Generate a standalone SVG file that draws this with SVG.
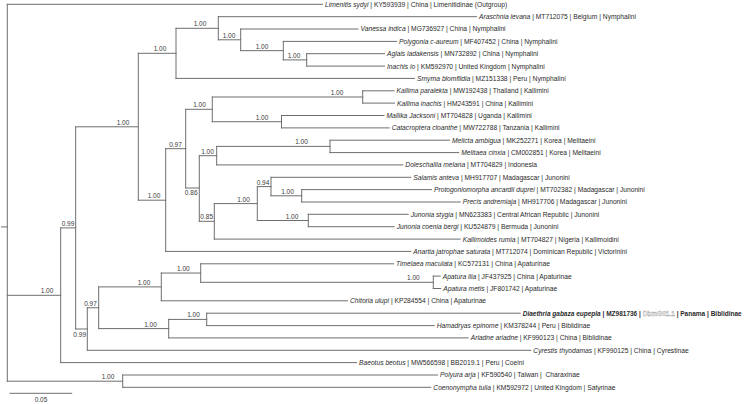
<svg xmlns="http://www.w3.org/2000/svg" width="745" height="404" viewBox="0 0 745 404">
<style>
.br{fill:none;stroke:#6e6e6e;stroke-width:1;stroke-linecap:square}
.tip{font-family:"Liberation Sans",Arial,sans-serif;font-size:6.7px;fill:#2a2a2a}
.sp{font-style:italic}
.bold{font-weight:bold}
.sup{font-family:"Liberation Sans",Arial,sans-serif;font-size:6.5px;fill:#3a3a3a;text-anchor:middle}
.redact{fill:#ffffff;stroke:#9a9a9a;stroke-width:0.35}
</style>
<rect width="745" height="404" fill="#ffffff"/>
<g id="connectors">
<path class="br" d="M1.5,226.9H7.3 M7.3,4.3V381.2 M7.3,4.3H322.5 M7.3,295.3H60.7 M7.3,381.2H122.7 M122.7,375V387.3 M122.7,375H437.5 M122.7,387.3H430.8 M60.7,227.9V362.6 M60.7,362.6H356.5 M60.7,227.9H75.7 M75.7,126.8V329 M75.7,126.8H138.3 M75.7,329H87.3 M138.3,53.3V200.2 M138.3,53.3H176 M138.3,200.2H165.7 M176,28.3V78.4 M176,28.3H218.3 M176,78.4H414.5 M218.3,16.7V39.8 M218.3,16.7H476.5 M218.3,39.8H240.7 M240.7,29V50.65 M240.7,29H358 M240.7,50.65H283.3 M283.3,41.4V59.9 M283.3,41.4H396.5 M283.3,59.9H306.7 M306.7,53.7V66.1 M306.7,53.7H384.5 M306.7,66.1H384.5 M165.7,148.7V251.4 M165.7,148.7H185.7 M165.7,251.4H410.8 M185.7,109.3V188 M185.7,109.3H212.3 M185.7,188H199.3 M212.3,97V121.7 M212.3,97H362.7 M212.3,121.7H281.5 M362.7,90.8V103.1 M362.7,90.8H394 M362.7,103.1H394.5 M281.5,115.5V127.9 M281.5,115.5H384 M281.5,127.9H389.2 M199.3,155.7V221.3 M199.3,155.7H216.7 M199.3,221.3H214.3 M216.7,146.4V164.9 M216.7,146.4H330 M216.7,164.9H402.8 M330,140.2V152.6 M330,140.2H449.5 M330,152.6H458.8 M214.3,203.6V239.1 M214.3,203.6H257.3 M214.3,239.1H460.2 M257.3,186.6V220.5 M257.3,186.6H271 M257.3,220.5H308.3 M271,177.3V195.8 M271,177.3H410.8 M271,195.8H301.7 M301.7,189.6V202 M301.7,189.6H431.5 M301.7,202H460.2 M308.3,214.3V226.7 M308.3,214.3H408.2 M308.3,226.7H394.2 M87.3,307.75V350.3 M87.3,307.75H98.7 M87.3,350.3H530.8 M98.7,286.9V328.6 M98.7,286.9H161.3 M98.7,328.6H168.7 M161.3,273.05V300.8 M161.3,273.05H200.7 M161.3,300.8H347.5 M200.7,263.8V282.3 M200.7,263.8H393.5 M200.7,282.3H433.3 M433.3,276.1V288.5 M433.3,276.1H440.2 M433.3,288.5H440.8 M168.7,319.4V337.9 M168.7,319.4H206.7 M168.7,337.9H468.2 M206.7,313.2V325.6 M206.7,313.2H520.2 M206.7,325.6H434.2"/>
</g>
<g id="support">
<text class="sup" x="47" y="293.3">1.00</text>
<text class="sup" x="108" y="379.2">1.00</text>
<text class="sup" x="68" y="225.9">0.99</text>
<text class="sup" x="123" y="124.8">1.00</text>
<text class="sup" x="160" y="51.3">1.00</text>
<text class="sup" x="200" y="26.3">1.00</text>
<text class="sup" x="229" y="37.8">1.00</text>
<text class="sup" x="262" y="48.6">1.00</text>
<text class="sup" x="294" y="57.9">1.00</text>
<text class="sup" x="154" y="198.2">1.00</text>
<text class="sup" x="175.5" y="146.7">0.97</text>
<text class="sup" x="199.5" y="107.3">1.00</text>
<text class="sup" x="337" y="95">1.00</text>
<text class="sup" x="262" y="119.7">1.00</text>
<text class="sup" x="207.5" y="153.7">1.00</text>
<text class="sup" x="301.5" y="144.4">1.00</text>
<text class="sup" x="243.5" y="201.6">1.00</text>
<text class="sup" x="263" y="184.6">0.94</text>
<text class="sup" x="287.5" y="193.8">1.00</text>
<text class="sup" x="292" y="218.5">1.00</text>
<text class="sup" x="191.2" y="194.8">0.86</text>
<text class="sup" x="206.7" y="219.3">0.85</text>
<text class="sup" x="79.7" y="336.5">0.99</text>
<text class="sup" x="90.5" y="305.7">0.97</text>
<text class="sup" x="144" y="284.9">1.00</text>
<text class="sup" x="183.3" y="271">1.00</text>
<text class="sup" x="413.3" y="280.3">1.00</text>
<text class="sup" x="150.5" y="326.6">1.00</text>
<text class="sup" x="193.5" y="317.4">1.00</text>
</g>
<g id="tip-limenitis"><text class="tip" x="325" y="6.7"><tspan class="sp">Limenitis sydyi</tspan> | KY593939 | China | Limenitidinae (Outgroup)</text></g>
<g id="tip-araschnia"><text class="tip" x="479" y="19.1"><tspan class="sp">Araschnia levana</tspan> | MT712075 | Belgium | Nymphalini</text></g>
<g id="tip-vanessa"><text class="tip" x="360.5" y="31.4"><tspan class="sp">Vanessa indica</tspan> | MG736927 | China | Nymphalini</text></g>
<g id="tip-polygonia"><text class="tip" x="399" y="43.8"><tspan class="sp">Polygonia c-aureum</tspan> | MF407452 | China | Nymphalini</text></g>
<g id="tip-aglais"><text class="tip" x="387" y="56.1"><tspan class="sp">Aglais ladakensis</tspan> | MN732892 | China | Nymphalini</text></g>
<g id="tip-inachis"><text class="tip" x="387" y="68.5"><tspan class="sp">Inachis io</tspan> | KM592970 | United Kingdom | Nymphalini</text></g>
<g id="tip-smyrna"><text class="tip" x="417" y="80.8"><tspan class="sp">Smyrna blomfildia</tspan> | MZ151338 | Peru | Nymphalini</text></g>
<g id="tip-kallima-paralekta"><text class="tip" x="396.5" y="93.2"><tspan class="sp">Kallima paralekta</tspan> | MW192438 | Thailand | Kallimini</text></g>
<g id="tip-kallima-inachis"><text class="tip" x="397" y="105.5"><tspan class="sp">Kallima inachis</tspan> | HM243591 | China | Kallimini</text></g>
<g id="tip-mallika"><text class="tip" x="386.5" y="117.9"><tspan class="sp">Mallika Jacksoni</tspan> | MT704828 | Uganda | Kallimini</text></g>
<g id="tip-catacroptera"><text class="tip" x="391.7" y="130.3"><tspan class="sp">Catacroptera cloanthe</tspan> | MW722788 | Tanzania | Kallimini</text></g>
<g id="tip-melicta"><text class="tip" x="452" y="142.6"><tspan class="sp">Melicta ambigua</tspan> | MK252271 | Korea | Melitaeini</text></g>
<g id="tip-melitaea"><text class="tip" x="461.3" y="155"><tspan class="sp">Melitaea cinxia</tspan> | CM002851 | Korea | Melitaeini</text></g>
<g id="tip-doleschallia"><text class="tip" x="405.3" y="167.3"><tspan class="sp">Doleschallia melana</tspan> | MT704829 | Indonesia</text></g>
<g id="tip-salamis"><text class="tip" x="413.3" y="179.7"><tspan class="sp">Salamis anteva</tspan> | MH917707 | Madagascar | Junonini</text></g>
<g id="tip-protogoniomorpha"><text class="tip" x="434" y="192"><tspan class="sp">Protogoniomorpha ancardii duprei</tspan> | MT702382 | Madagascar | Junonini</text></g>
<g id="tip-precis"><text class="tip" x="462.7" y="204.4"><tspan class="sp">Precis andremiaja</tspan> | MH917706 | Madagascar | Junonini</text></g>
<g id="tip-junonia-stygia"><text class="tip" x="410.7" y="216.7"><tspan class="sp">Junonia stygia</tspan> | MN623383 | Central African Republic | Junonini</text></g>
<g id="tip-junonia-coenia"><text class="tip" x="396.7" y="229.1"><tspan class="sp">Junonia coenia bergi</tspan> | KU524879 | Bermuda | Junonini</text></g>
<g id="tip-kallimoides"><text class="tip" x="462.7" y="241.5"><tspan class="sp">Kallimoides rumia</tspan> | MT704827 | Nigeria | Kallimoidini</text></g>
<g id="tip-anartia"><text class="tip" x="413.3" y="253.8"><tspan class="sp">Anartia jatrophae saturata</tspan> | MT712074 | Dominican Republic | Victorinini</text></g>
<g id="tip-timelaea"><text class="tip" x="396" y="266.2"><tspan class="sp">Timelaea maculata</tspan> | KC572131 | China | Apaturinae</text></g>
<g id="tip-apatura-ilia"><text class="tip" x="442.7" y="278.5"><tspan class="sp">Apatura ilia</tspan> | JF437925 | China | Apaturinae</text></g>
<g id="tip-apatura-metis"><text class="tip" x="443.3" y="290.9"><tspan class="sp">Apatura metis</tspan> | JF801742 | Apaturinae</text></g>
<g id="tip-chitoria"><text class="tip" x="350" y="303.2"><tspan class="sp">Chitoria ulupi</tspan> | KP284554 | China | Apaturinae</text></g>
<g id="tip-diaethria"><text class="tip bold" x="522.7" y="315.6" textLength="219" lengthAdjust="spacingAndGlyphs"><tspan class="sp">Diaethria gabaza eupepla</tspan> | MZ981736 | <tspan class="redact">DbmG01.1</tspan> | Panama | Biblidinae</text></g>
<g id="tip-hamadryas"><text class="tip" x="436.7" y="328"><tspan class="sp">Hamadryas epinome</tspan> | KM378244 | Peru | Biblidinae</text></g>
<g id="tip-ariadne"><text class="tip" x="470.7" y="340.3"><tspan class="sp">Ariadne ariadne</tspan> | KF990123 | China | Biblidinae</text></g>
<g id="tip-cyrestis"><text class="tip" x="533.3" y="352.7"><tspan class="sp">Cyrestis thyodamas</tspan> | KF990125 | China | Cyrestinae</text></g>
<g id="tip-baeotus"><text class="tip" x="359" y="365"><tspan class="sp">Baeotus beotus</tspan> | MW566598 | BB2019.1 | Peru | Coeini</text></g>
<g id="tip-polyura"><text class="tip" x="440" y="377.4" xml:space="preserve"><tspan class="sp">Polyura arja</tspan> | KF590540 | Taiwan |  Charaxinae</text></g>
<g id="tip-coenonympha"><text class="tip" x="433.3" y="389.7"><tspan class="sp">Coenonympha tulia</tspan> | KM592972 | United Kingdom | Satyrinae</text></g>
<g id="scale-bar">
<path class="br" d="M10,393.3H71.7"/>
<text class="sup" x="41" y="401.5">0.05</text>
</g>
</svg>
